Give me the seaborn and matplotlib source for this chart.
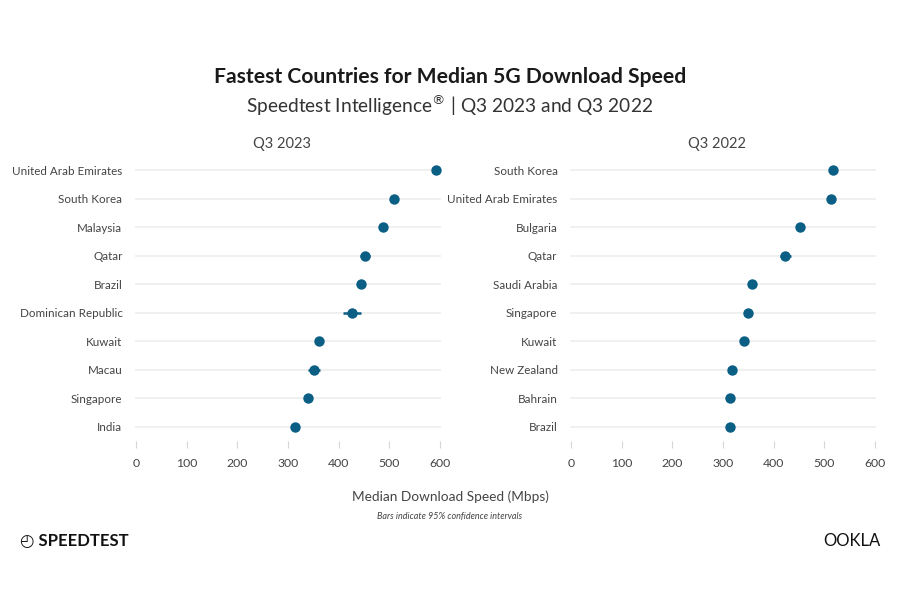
import numpy as np
import pandas as pd
import matplotlib
matplotlib.use("Agg")
import matplotlib.pyplot as plt
import seaborn as sns

# --- data ---
countries_2023 = ["United Arab Emirates", "South Korea", "Malaysia", "Qatar", "Brazil",
                  "Dominican Republic", "Kuwait", "Macau", "Singapore", "India"]
speed_2023 = [593, 509, 487, 452, 445, 426, 361, 351, 340, 313]
ci_2023 = [3, 3, 3, 9, 3, 18, 3, 12, 3, 3]

countries_2022 = ["South Korea", "United Arab Emirates", "Bulgaria", "Qatar", "Saudi Arabia",
                  "Singapore", "Kuwait", "New Zealand", "Bahrain", "Brazil"]
speed_2022 = [518, 513, 452, 423, 357, 349, 342, 318, 313, 313]
ci_2022 = [3, 3, 3, 11, 3, 3, 3, 3, 3, 3]

x_ticks = [0, 100, 200, 300, 400, 500, 600]

DOT = "#0b5f85"
GRID = "#eeeeee"
TXT = "#444444"

sns.set_theme(style="white")
plt.rcParams["font.family"] = ["Lato", "DejaVu Sans"]

fig = plt.figure(figsize=(9, 6), dpi=100)
ax1 = fig.add_axes([135 / 900, 1 - 441 / 600, 306 / 900, 285 / 600])
ax2 = fig.add_axes([570 / 900, 1 - 441 / 600, 306 / 900, 285 / 600])


def panel(ax, names, vals, ci, title):
    df = pd.DataFrame({"country": names, "speed": vals})
    n = len(names)
    for i in range(n):
        ax.axhline(i, color=GRID, lw=1.2, zorder=0)
    # 95% CI bars
    ax.hlines(np.arange(n), np.array(vals) - np.array(ci), np.array(vals) + np.array(ci),
              color=DOT, lw=1.8, zorder=2)
    sns.stripplot(data=df, x="speed", y="country", order=names, jitter=False,
                  color=DOT, size=7.5, linewidth=0, ax=ax, zorder=3)
    ax.set_xlim(-2, 602)
    ax.set_ylim(n - 0.5, -0.5)
    ax.set_xticks(x_ticks)
    ax.set_xticklabels([str(t) for t in x_ticks])
    ax.set_xlabel("")
    ax.set_ylabel("")
    ax.set_title(title, fontsize=10.5, color=TXT, pad=6, x=0.48)
    sns.despine(ax=ax, left=True, bottom=True)
    ax.tick_params(axis="x", colors="#d5d5d5", labelcolor=TXT, labelsize=8.8,
                   length=5, width=0.8, direction="out", bottom=True, pad=7)
    ax.tick_params(axis="y", labelcolor=TXT, labelsize=8.4, length=0, pad=9)
    ax.grid(False)


panel(ax1, countries_2023, speed_2023, ci_2023, "Q3 2023")
panel(ax2, countries_2022, speed_2022, ci_2022, "Q3 2022")

fig.text(0.5, 1 - 77 / 600, "Fastest Countries for Median 5G Download Speed",
         ha="center", va="center", fontsize=15.2, fontweight="bold", color="#1a1a1a")
fig.text(0.5, 1 - 105 / 600, "Speedtest Intelligence$^{\u00ae}$ | Q3 2023 and Q3 2022",
         ha="center", va="center", fontsize=13.8, color="#333333")
fig.text(0.5, 1 - 497 / 600, "Median Download Speed (Mbps)",
         ha="center", va="center", fontsize=9.8, color=TXT)
fig.text(0.5, 1 - 517 / 600, "Bars indicate 95% confidence intervals",
         ha="center", va="center", fontsize=6.5, style="italic", color=TXT)

# logos as text
fig.text(20 / 900, 1 - 541 / 600, "\u25f4 SPEEDTEST", ha="left", va="center",
         fontsize=12, fontweight="bold", color="#111111")
fig.text(880 / 900, 1 - 541 / 600, "OOKLA", ha="right", va="center",
         fontsize=12, color="#111111")

fig.savefig("out.png", dpi=100, facecolor="white")
